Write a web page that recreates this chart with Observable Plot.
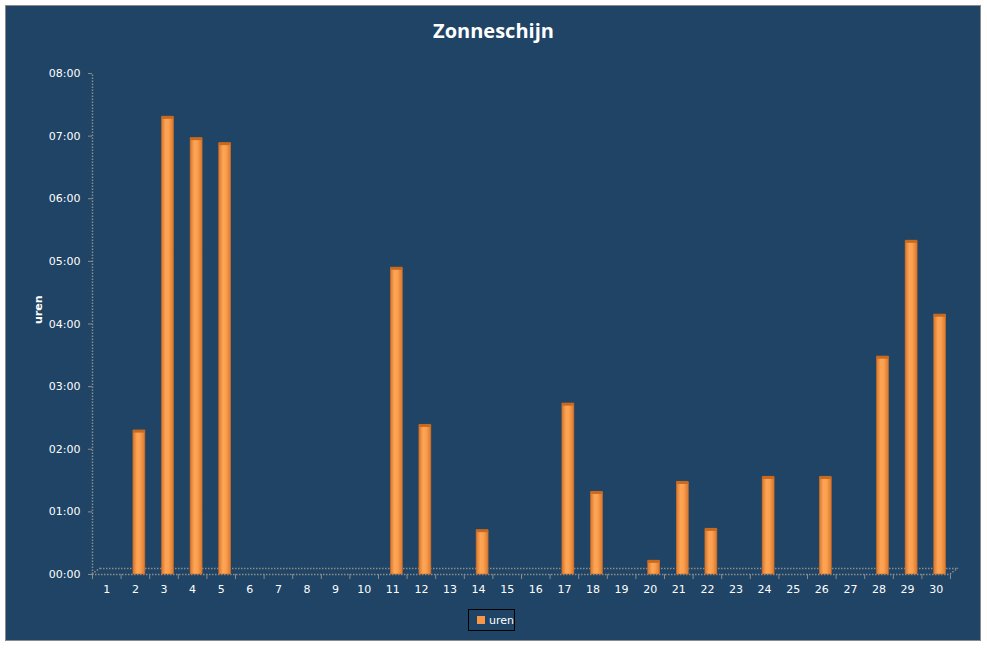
<!DOCTYPE html>
<html>
<head>
<meta charset="utf-8">
<script src="https://cdn.jsdelivr.net/npm/d3@7"></script>
<script src="https://cdn.jsdelivr.net/npm/@observablehq/plot@0.6"></script>
<style>
  html, body { margin: 0; padding: 0; background: #ffffff; }
  #wrap { position: relative; width: 987px; height: 648px; overflow: hidden; }
  #frame { position: absolute; left: 5px; top: 5px; width: 974px; height: 634px;
           background: #1f4466; border: 1px solid #8a8a8a; }
  #title { position: absolute; left: 0; top: 17px; width: 987px; text-align: center;
           font-family: "Open Sans", sans-serif; font-weight: bold; font-size: 20px; color: #ffffff; }
  #chart { position: absolute; left: 0; top: 50px; }
  #legend { position: absolute; left: 468px; top: 609px; width: 47px; height: 22px;
            border: 1px solid #000; box-sizing: border-box; font-family: "DejaVu Sans", sans-serif;
            font-size: 11px; color: #fff; display: flex; align-items: center; }
  #legend .sw { width: 8px; height: 8px; background: #f79646; margin-left: 8px; margin-right: 4px; }
</style>
</head>
<body>
<div id="wrap">
  <div id="frame"></div>
  <div id="title">Zonneschijn</div>
  <div id="chart"></div>
  <div id="legend"><span class="sw"></span><span>uren</span></div>
</div>
<script>
const days = d3.range(1, 31);
const hours = [0, 2.29, 7.30, 6.96, 6.88, 0, 0, 0, 0, 0,
               4.89, 2.38, 0, 0.70, 0, 0, 2.72, 1.31, 0, 0.21,
               1.47, 0.72, 0, 1.55, 0, 1.55, 0, 3.47, 5.32, 4.14];
const yTicks = [0, 1, 2, 3, 4, 5, 6, 7, 8];
const seriesName = "uren";

const data = days.map((d, i) => ({day: d, value: hours[i]}));
const bars = data.filter(d => d.value > 0);
const halfTicks = d3.range(0.5, 31, 1);
const fmt = h => String(Math.floor(h)).padStart(2, "0") + ":00";

const axisColor = "#8c8c8c";
const W = 0.21;

const plot = Plot.plot({
  width: 987,
  height: 560,
  marginLeft: 92,
  marginRight: 37,
  marginTop: 23,
  marginBottom: 36,
  style: {background: "transparent", color: "#ffffff", fontFamily: "DejaVu Sans, sans-serif", fontSize: "11px"},
  x: {type: "linear", domain: [0.5, 30.5]},
  y: {type: "linear", domain: [0, 8]},
  marks: [
    // floor back edge
    Plot.ruleY([0], {x1: () => 0.5, x2: () => 30.5, dx: 8, dy: -6, stroke: axisColor, strokeDasharray: "1.5,1.5", strokeWidth: 1.5}),
    // floor front edge
    Plot.ruleY([0], {x1: () => 0.5, x2: () => 30.5, stroke: axisColor, strokeDasharray: "1.5,1.5", strokeWidth: 1.5}),
    // y axis line
    Plot.ruleX([0.5], {y1: () => 0, y2: () => 8, stroke: axisColor, strokeDasharray: "1.5,1.5", strokeWidth: 1.5}),
    Plot.axisY({ticks: yTicks, tickFormat: fmt, tickSize: 4, tickPadding: 8, stroke: axisColor, label: null, fill: "#ffffff"}),
    Plot.axisX({ticks: halfTicks, tickFormat: () => "", tickSize: 5, stroke: axisColor, label: null}),
    Plot.axisX({ticks: days, tickFormat: d => String(d), tickSize: 0, tickPadding: 11, label: null, fill: "#ffffff"}),
    Plot.rectY(bars, {x1: d => d.day - W, x2: d => d.day + W, y: "value", dx: 4, fill: "url(#barGrad)", stroke: "#c96a22", strokeWidth: 0.6}),
    Plot.ruleY(bars, {x1: d => d.day - W, x2: d => d.day + W, y: "value", dx: 4, stroke: "#c9691f", strokeWidth: 3}),
    Plot.text([seriesName], {frameAnchor: "left", rotate: -90, dx: -54, fill: "#ffffff", fontWeight: "bold", fontSize: 11})
  ]
});

// gradient definition for cylinder-like bars
const svg = d3.select(plot);
const defs = svg.insert("defs", ":first-child");
const g = defs.append("linearGradient").attr("id", "barGrad").attr("x1", "0").attr("x2", "1").attr("y1", "0").attr("y2", "0");
g.append("stop").attr("offset", "0%").attr("stop-color", "#d7772e");
g.append("stop").attr("offset", "35%").attr("stop-color", "#fda556");
g.append("stop").attr("offset", "60%").attr("stop-color", "#fba04f");
g.append("stop").attr("offset", "100%").attr("stop-color", "#d9782f");

// floor side diagonals drawn with the plot's scales
const xs = plot.scale("x"), ys = plot.scale("y");
[0.5, 30.5].forEach(v => {
  svg.append("line")
    .attr("x1", xs.apply(v)).attr("y1", ys.apply(0))
    .attr("x2", xs.apply(v) + 8).attr("y2", ys.apply(0) - 6)
    .attr("stroke", axisColor).attr("stroke-width", 1.5).attr("stroke-dasharray", "1.5,1.5");
});

document.getElementById("chart").appendChild(plot);
</script>
</body>
</html>
